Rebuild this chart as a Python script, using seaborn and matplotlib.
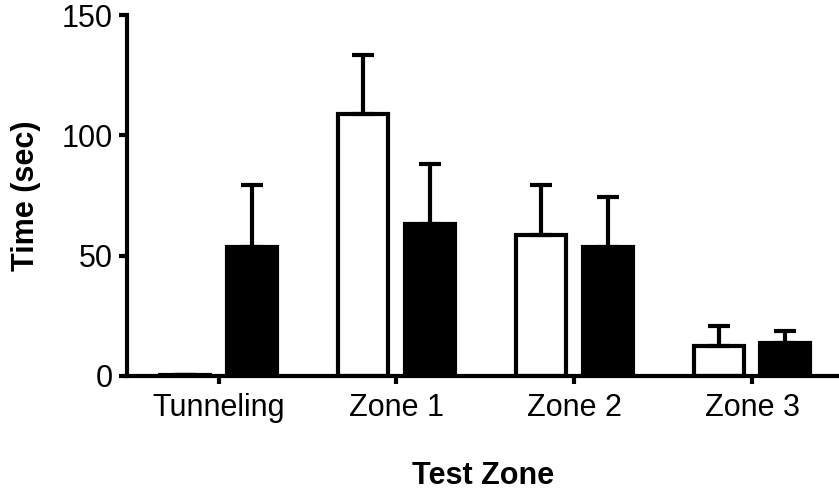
import matplotlib
matplotlib.use('Agg')
import matplotlib.pyplot as plt
import seaborn as sns
import pandas as pd

sns.set_style('ticks')
plt.rcParams['font.family'] = ['Liberation Sans', 'DejaVu Sans']
plt.rcParams['text.color'] = 'black'
plt.rcParams['axes.labelcolor'] = 'black'

zones = ['Tunneling', 'Zone 1', 'Zone 2', 'Zone 3']
groups = ['Group 1', 'Group 2']
means_g1 = [0.5, 109, 58.5, 12.5]
means_g2 = [53.5, 63, 53.5, 13.7]
sem_g1 = [0, 24.5, 21, 8.3]
sem_g2 = [26, 25, 21, 5]

df = pd.DataFrame({
    'zone': zones * 2,
    'group': [groups[0]] * 4 + [groups[1]] * 4,
    'time': means_g1 + means_g2,
})
errs = {groups[0]: sem_g1, groups[1]: sem_g2}

fig = plt.figure(figsize=(8.39, 4.92), dpi=100)
ax = fig.add_axes([0.151, 0.236, 0.849, 0.7335])

sns.barplot(data=df, x='zone', y='time', hue='group', hue_order=groups,
            palette={groups[0]: 'white', groups[1]: 'black'},
            edgecolor='black', linewidth=3, width=0.75, gap=0.25,
            errorbar=None, legend=False, ax=ax)

# one-sided (upper) error bars on top of each bar
for cont, g in zip(ax.containers, groups):
    xs = [b.get_x() + b.get_width() / 2 for b in cont]
    ys = [b.get_height() for b in cont]
    up = errs[g]
    ax.errorbar(xs, ys, yerr=[[0] * len(up), up], fmt='none', ecolor='black',
                elinewidth=3, capsize=8, capthick=3, zorder=1)

ax.set_ylim(0, 150)
ax.set_yticks([0, 50, 100, 150])
ax.set_xlim(-0.517, 3.489)

for s in ['top', 'right']:
    ax.spines[s].set_visible(False)
for s in ['left', 'bottom']:
    ax.spines[s].set_linewidth(3)
    ax.spines[s].set_color('black')

ax.tick_params(axis='both', direction='out', length=6, width=3, labelsize=22,
               colors='black')
ax.tick_params(axis='y', pad=4)
ax.tick_params(axis='x', pad=6)

ax.set_xlabel('Test Zone', fontsize=22, fontweight='bold', labelpad=28)
ax.set_ylabel('Time (sec)', fontsize=22, fontweight='bold', labelpad=15)

fig.savefig('out.png', dpi=100)
